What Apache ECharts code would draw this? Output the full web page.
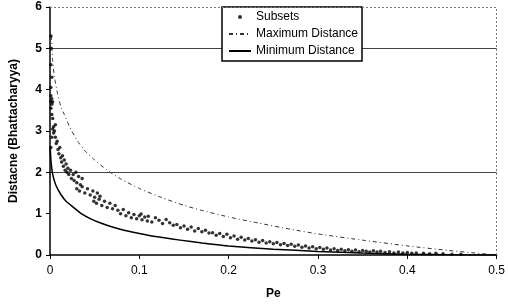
<!DOCTYPE html>
<html lang="en">

<head>
    <meta charset="UTF-8">
    <title>Distance vs Pe</title>
    <style>
        html, body { margin: 0; padding: 0; background: #fff; }
        .box { width: 508px; height: 307px; }
    </style>
</head>

<body>
    <div class="box"></div>

    <script src="https://cdn.jsdelivr.net/npm/echarts@6/dist/echarts.min.js"></script>
    <script>
        // 读图得到的数据
        let subsets = [
            [0.001, 5.3], [0.001, 5.0], [0.001, 4.6], [0.002, 4.3], [0.001, 4.05],
            [0.001, 3.85], [0.001, 3.72], [0.002, 3.78], [0.002, 3.65], [0.003, 3.70],
            [0.001, 3.55], [0.002, 3.40], [0.003, 3.30], [0.004, 3.10], [0.003, 3.05],
            [0.005, 3.00], [0.004, 2.95], [0.006, 3.15], [0.002, 2.85], [0.001, 2.6],
            [0.006, 2.85], [0.007, 2.70], [0.008, 2.75], [0.009, 2.55], [0.010, 2.45],
            [0.011, 2.60], [0.012, 2.35], [0.013, 2.25], [0.014, 2.40], [0.015, 2.15],
            [0.016, 2.30], [0.017, 2.05], [0.018, 2.20], [0.019, 2.00], [0.020, 2.10],
            [0.021, 1.95], [0.023, 2.05], [0.024, 1.85], [0.026, 1.95], [0.027, 1.80],
            [0.029, 2.00], [0.030, 1.75], [0.032, 1.90], [0.034, 1.70], [0.036, 1.85],
            [0.030, 1.60], [0.033, 1.55], [0.036, 1.65], [0.039, 1.50], [0.042, 1.60],
            [0.045, 1.45], [0.048, 1.55], [0.050, 1.40], [0.053, 1.50], [0.056, 1.42],
            [0.049, 1.30], [0.052, 1.25], [0.055, 1.35], [0.058, 1.20], [0.061, 1.30],
            [0.064, 1.15], [0.067, 1.25], [0.070, 1.12], [0.073, 1.20],
            [0.076, 1.08], [0.079, 1.00], [0.082, 1.10], [0.085, 0.95], [0.088, 1.02],
            [0.091, 0.90], [0.094, 0.98], [0.097, 0.88], [0.100, 0.95], [0.103, 0.85],
            [0.106, 0.92], [0.109, 0.82],
            [0.102, 0.99], [0.110, 0.94], [0.114, 0.80], [0.118, 0.90], [0.122, 0.84],
            [0.126, 0.76], [0.130, 0.86], [0.134, 0.78], [0.138, 0.72],
            [0.142, 0.74], [0.146, 0.66], [0.150, 0.70], [0.154, 0.62], [0.158, 0.68],
            [0.162, 0.58], [0.166, 0.64], [0.170, 0.56], [0.174, 0.60], [0.178, 0.53],
            [0.182, 0.54], [0.186, 0.48], [0.190, 0.52], [0.194, 0.45], [0.198, 0.50],
            [0.202, 0.42], [0.206, 0.46], [0.210, 0.38], [0.214, 0.43], [0.218, 0.36],
            [0.222, 0.40], [0.226, 0.34], [0.230, 0.37], [0.234, 0.31], [0.238, 0.35],
            [0.242, 0.29], [0.246, 0.32], [0.250, 0.27], [0.254, 0.30], [0.258, 0.25],
            [0.262, 0.28], [0.266, 0.23], [0.270, 0.26], [0.274, 0.21], [0.278, 0.24],
            [0.282, 0.19], [0.286, 0.22], [0.290, 0.17], [0.294, 0.20], [0.298, 0.15],
            [0.302, 0.18], [0.306, 0.14], [0.310, 0.17], [0.314, 0.12], [0.318, 0.15],
            [0.322, 0.11], [0.326, 0.14], [0.330, 0.10], [0.334, 0.13], [0.338, 0.09],
            [0.342, 0.12], [0.346, 0.08], [0.350, 0.11], [0.354, 0.09], [0.358, 0.07],
            [0.362, 0.10], [0.366, 0.07], [0.370, 0.09], [0.375, 0.06], [0.380, 0.08],
            [0.385, 0.05], [0.390, 0.07], [0.395, 0.05], [0.400, 0.06], [0.405, 0.04],
            [0.410, 0.05], [0.418, 0.04], [0.425, 0.03], [0.432, 0.04], [0.440, 0.03],
            [0.450, 0.02], [0.460, 0.02]
        ]
        let maxDistance = [
            [0.0015, 5.3], [0.003, 4.7], [0.005, 4.3], [0.0085, 3.9], [0.012, 3.6],
            [0.016, 3.4], [0.022, 3.1], [0.031, 2.75], [0.04, 2.5], [0.05, 2.3],
            [0.064, 2.05], [0.08, 1.83], [0.101, 1.6], [0.125, 1.39], [0.15, 1.2],
            [0.168, 1.09], [0.2, 0.92], [0.234, 0.77], [0.27, 0.62], [0.3, 0.51],
            [0.353, 0.35], [0.4, 0.22], [0.446, 0.11], [0.475, 0.05], [0.5, 0]
        ]
        let minDistance = [
            [0.0003, 2.6], [0.001, 2.3], [0.003, 1.95], [0.0067, 1.68], [0.012, 1.47],
            [0.018, 1.3], [0.027, 1.14], [0.035, 1.0], [0.045, 0.88], [0.056, 0.78],
            [0.068, 0.69], [0.083, 0.6], [0.1, 0.52], [0.12, 0.44], [0.1456, 0.36],
            [0.17, 0.29], [0.2, 0.22], [0.25, 0.14], [0.3, 0.087], [0.35, 0.048],
            [0.4, 0.02], [0.45, 0.005], [0.5, 0]
        ]

        let myChart = echarts.init(document.querySelector(".box"));
        let font = "Liberation Sans, Arial, sans-serif";
        let hidden = "rgba(0,0,0,0)";
        let option = {
            animation: false,
            grid: {
                left: 49,
                right: 9,
                top: 7,
                bottom: 52
            },
            legend: {
                left: 222,
                top: 7,
                orient: "vertical",
                backgroundColor: "#fff",
                borderColor: "#000",
                borderWidth: 1.5,
                padding: [4, 4, 4, 6],
                itemGap: 5,
                itemWidth: 22,
                itemHeight: 4,
                textStyle: {
                    fontFamily: font,
                    fontSize: 12,
                    color: "#000"
                },
                data: [
                    { name: "Subsets", icon: "circle" },
                    { name: "Maximum Distance", itemStyle: { opacity: 0 } },
                    { name: "Minimum Distance", itemStyle: { opacity: 0 } }
                ]
            },
            xAxis: {
                type: "value",
                min: 0,
                max: 0.5,
                interval: 0.1,
                name: "Pe",
                nameLocation: "middle",
                nameGap: 33,
                nameTextStyle: {
                    fontFamily: font,
                    fontWeight: "bold",
                    fontSize: 12,
                    color: "#000"
                },
                axisLine: { lineStyle: { color: "#000", width: 1.5 } },
                axisTick: { show: true, length: 4, lineStyle: { color: "#000" } },
                axisLabel: {
                    fontFamily: font,
                    fontSize: 12,
                    color: "#000",
                    margin: 10
                },
                splitLine: { show: false }
            },
            yAxis: {
                type: "value",
                min: 0,
                max: 6,
                interval: 1,
                name: "Distacne (Bhattacharyya)",
                nameLocation: "middle",
                nameGap: 30,
                nameTextStyle: {
                    fontFamily: font,
                    fontWeight: "bold",
                    fontSize: 12,
                    color: "#000"
                },
                axisLine: { show: true, lineStyle: { color: "#000", width: 1.5 } },
                axisTick: { show: true, length: 4, lineStyle: { color: "#000" } },
                axisLabel: {
                    fontFamily: font,
                    fontSize: 12,
                    fontWeight: "bold",
                    color: "#000",
                    margin: 8
                },
                splitLine: {
                    show: true,
                    lineStyle: {
                        // 只有 2 和 5 两条网格线清晰可见
                        color: [hidden, hidden, "#444", hidden, hidden, "#444", hidden],
                        width: 1
                    }
                }
            },
            series: [{
                name: "Subsets",
                type: "scatter",
                data: subsets,
                symbolSize: 3.5,
                itemStyle: { color: "#000" },
                z: 3,
                markLine: {
                    silent: true,
                    symbol: "none",
                    label: { show: false },
                    lineStyle: { color: "#777", type: [2, 2], width: 1 },
                    data: [
                        { yAxis: 6 },
                        { xAxis: 0.5 }
                    ]
                }
            }, {
                name: "Maximum Distance",
                type: "line",
                data: maxDistance,
                smooth: 0.2,
                symbol: "none",
                lineStyle: { color: "#333", width: 1, type: [4, 3, 1, 3] },
                itemStyle: { color: "#333" }
            }, {
                name: "Minimum Distance",
                type: "line",
                data: minDistance,
                smooth: 0.2,
                symbol: "none",
                lineStyle: { color: "#000", width: 1.5 },
                itemStyle: { color: "#000" }
            }]
        }
        myChart.setOption(option);
    </script>
</body>

</html>
